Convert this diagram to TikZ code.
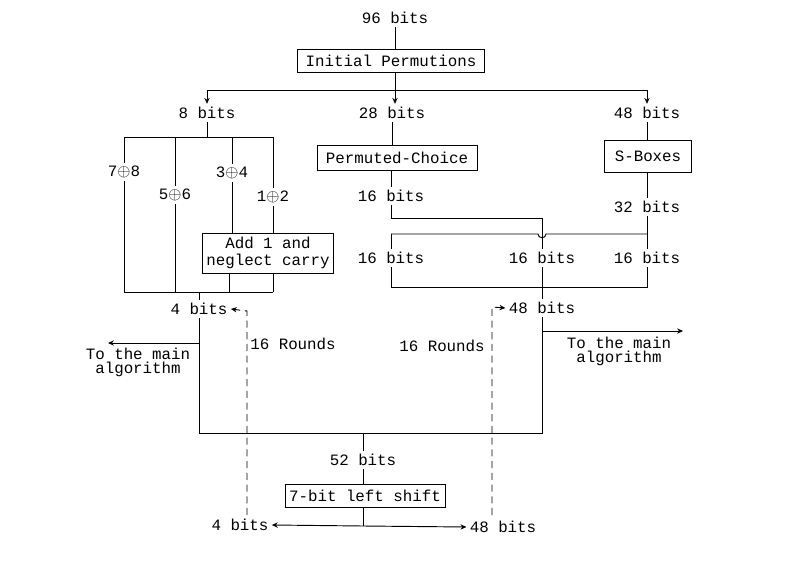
\documentclass[tikz,border=0pt]{standalone}
\usepackage{fontspec}
\setmonofont{Liberation Mono}
\usetikzlibrary{arrows.meta}

\begin{document}
\begin{tikzpicture}[x=0.03cm,y=-0.03cm,line width=0.8pt,inner sep=2.5pt,
  font=\fontsize{13.5}{14.5}\selectfont\ttfamily,
  >={Stealth[length=5pt,width=4.5pt]},
  box/.style={draw},
  note/.style={align=center,font=\fontsize{13.5}{12}\selectfont\ttfamily},
  dsh/.style={dash pattern=on 6pt off 4pt}]
\useasboundingbox (0,0) rectangle (803,561);

\node (b96) at (395,18) {96 bits};
\node[box,minimum width=5.61cm,minimum height=0.69cm] (ip) at (391,61) {Initial Permutions};
\coordinate (hub) at (395,90);
\node (b8) at (207,113) {8 bits};
\node (b28) at (392,113) {28 bits};
\node (b48) at (647,113) {48 bits};

\path [-] (b96) edge (b96 |- ip.north);
\draw [->] (ip.south -| hub) -- (hub |- b28.north);
\draw [->] (hub) -| (b8.north);
\draw [->] (hub) -| (b48.north);

% left half
\coordinate (tl) at (124,137);
\coordinate (tr) at (273,137);
\coordinate (bl) at (124,292);
\coordinate (br) at (273,292);
\coordinate (bj) at (229,292);
\node (x78) at (124,172) {7$\oplus$8};
\node (x56) at (175,195) {5$\oplus$6};
\node (x34) at (232,173) {3$\oplus$4};
\node (x12) at (273,197) {1$\oplus$2};
\node[box,align=center,minimum width=3.93cm,minimum height=1.2cm] (add) at (268,253) {Add 1 and\\neglect carry};
\node (b4a) at (199,309) {4 bits};

\path [-] (b8) edge (b8 |- tl);
\draw (tl) -- (tr);
\path [-] (tl) edge (x78);
\path [-] (x78) edge (bl);
\path [-] (x56 |- tl) edge (x56);
\path [-] (x56) edge (x56 |- bl);
\path [-] (x34 |- tl) edge (x34);
\path [-] (x34) edge (x34 |- add.north);
\path [-] (tr) edge (x12);
\path [-] (x12) edge (x12 |- add.north);
\draw (bl) -- (br);
\draw (add.south -| bj) -- (bj);
\draw (add.south -| br) -- (br);
\path [-] (b4a |- bl) edge (b4a);

% right half
\node[box,minimum width=4.8cm,minimum height=0.75cm] (pc) at (397,158) {Permuted-Choice};
\node[box,minimum width=2.61cm,minimum height=0.96cm] (sb) at (648,156) {S-Boxes};
\node (b16a) at (391,196) {16 bits};
\node (b32) at (647,207) {32 bits};
\node (b16l) at (391,258) {16 bits};
\node (b16m) at (542,258) {16 bits};
\node (b16r) at (647,258) {16 bits};
\node (b48b) at (542,308) {48 bits};
\coordinate (rtl) at (391,234);
\coordinate (rtr) at (647,234);
\coordinate (rbl) at (391,287);
\coordinate (rbr) at (647,287);
\coordinate (pcr) at (542,218);
\coordinate (hopa) at (538,234);
\coordinate (hopb) at (546,234);

\path [-] (b28) edge (b28 |- pc.north);
\path [-] (pc.south -| b16a) edge (b16a);
\draw (b16a.south) |- (pcr) -- (b16m.north);
\path [-] (b48) edge (b48 |- sb.north);
\path [-] (sb.south -| b32) edge (b32);
\path [-] (b32) edge (b16r);
\draw (rtl) -- (hopa) .. controls +(0,5) and +(0,5) .. (hopb) -- (rtr);
\path [-] (rtl) edge (b16l);
\draw (b16l.south) -- (rbl) -- (rbr) -- (b16r.south);
\path [-] (b16m) edge (b48b);

% the two rounds
\coordinate (lc) at (199,433);
\coordinate (rc) at (542,433);
\coordinate (lo) at (199,343);
\coordinate (loend) at (108,343);
\coordinate (ro) at (542,331);
\coordinate (roend) at (683,331);
\node[note] (ta) at (138,362) {To the main\\algorithm};
\node[note] (tb) at (619,351) {To the main\\algorithm};
\node (r16a) at (293,344) {16 Rounds};
\node (r16b) at (442,346) {16 Rounds};

\draw (b4a.south) -- (lc) -- (rc) -- (b48b.south);
\draw [->] (lo) -- (loend);
\draw [->] (ro) -- (roend);

\coordinate (dlt) at (247,311);
\coordinate (dlb) at (247,515);
\coordinate (drt) at (492,307);
\coordinate (drb) at (492,515);
\draw [dsh,->] (dlb) -- (dlt) -- (b4a.east);
\draw [dsh,->] (drb) -- (drt) -- (b48b.west);

% shift
\coordinate (bt) at (363,433);
\coordinate (bh) at (363,526);
\node (b52) at (363,460) {52 bits};
\node[box,minimum width=4.8cm,minimum height=0.69cm] (ls) at (365,496) {7-bit left shift};
\node (b4b) at (240,525) {4 bits};
\node (b48c) at (503,527) {48 bits};

\path [-] (bt) edge (b52);
\path [-] (b52) edge (b52 |- ls.north);
\draw (ls.south -| bt) -- (bh);
\draw [->] (bh) -- (b4b.east);
\draw [->] (bh) -- (b48c.west);
\end{tikzpicture}
\end{document}
